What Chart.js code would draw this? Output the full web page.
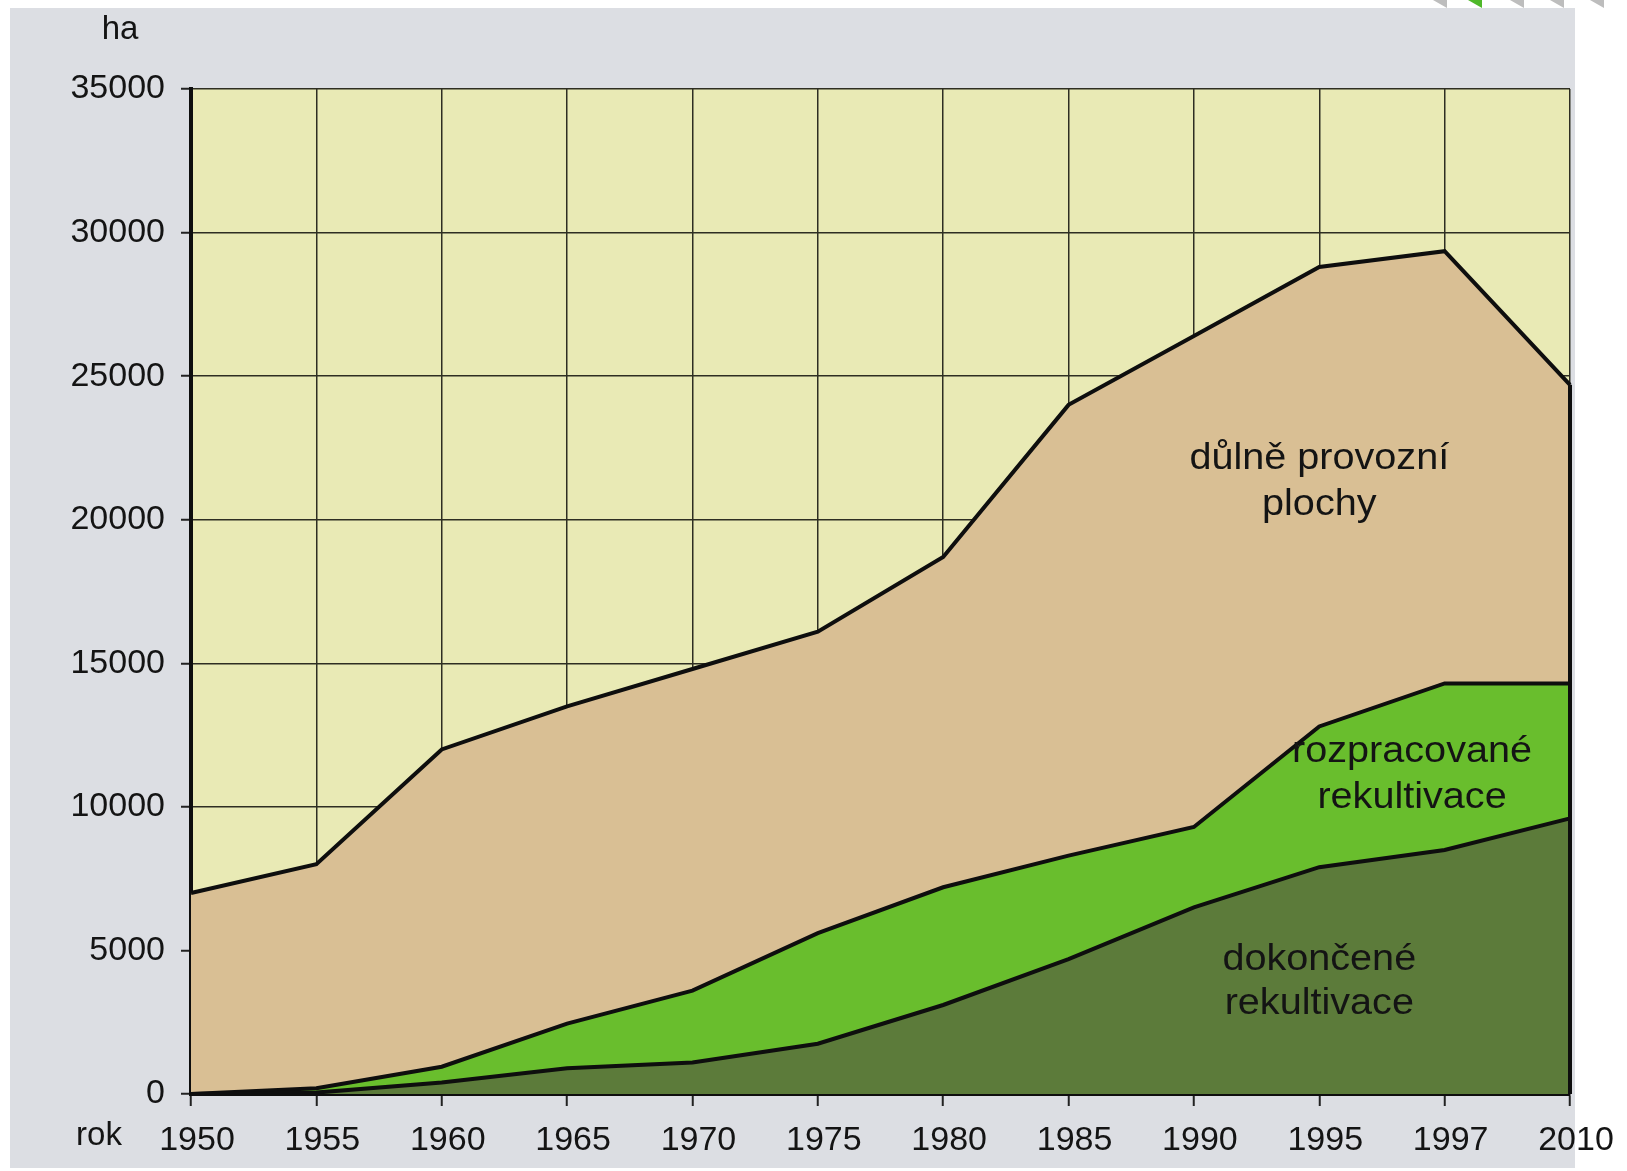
<!DOCTYPE html>
<html>
<head>
<meta charset="utf-8">
<script src="https://cdn.jsdelivr.net/npm/chart.js@4/dist/chart.umd.min.js"></script>
<style>
  html, body { margin: 0; padding: 0; background: #ffffff; }
  canvas { display: block; }
</style>
</head>
<body>
<canvas id="chart" width="1627" height="1171"></canvas>
<script>
// roky
var years = ['1950', '1955', '1960', '1965', '1970', '1975', '1980', '1985', '1990', '1995', '1997', '2010'];

// plochy v ha (jednotlivé vrstvy, skládají se na sebe)
var dokoncene    = [0,   50,   400,   900,  1100,  1750,  3100,  4700,  6500,  7900,  8500,  9600];
var rozpracovane = [0,  150,   550,  1550,  2500,  3850,  4100,  3600,  2800,  4900,  5800,  4700];
var dulne        = [7000, 7800, 11050, 11050, 11200, 10500, 11500, 15700, 17100, 16000, 15050, 10400];

var yTicks = [0, 5000, 10000, 15000, 20000, 25000, 30000, 35000];

// popisky ploch: [řádky, pozice na ose x (index roku), hodnota y prvního řádku, y druhého řádku]
var areaLabels = [
  [['důlně provozní', 'plochy'], 9, 22100, 20500],
  [['rozpracované', 'rekultivace'], 9.74, 11900, 10300],
  [['dokončené', 'rekultivace'], 9, 4670, 3140]
];

var FONT = '"Liberation Sans", Arial, sans-serif';
var TEXT = '#141414';
var LINE = '#0e0e0e';

var background = {
  id: 'background',
  beforeDraw: function (chart) {
    var ctx = chart.ctx, a = chart.chartArea;
    ctx.save();
    ctx.fillStyle = '#ffffff';
    ctx.fillRect(0, 0, chart.width, chart.height);
    ctx.fillStyle = '#dcdee3';
    ctx.fillRect(10, 8, 1565, 1160);
    // ozdobné trojúhelníčky v rohu
    var tri = [1433, 1468, 1510, 1550, 1590];
    tri.forEach(function (x, i) {
      ctx.fillStyle = i === 1 ? '#4fb82a' : '#bdbdbd';
      ctx.beginPath();
      ctx.moveTo(x, 0);
      ctx.lineTo(x + 14, 0);
      ctx.lineTo(x + 14, 8);
      ctx.closePath();
      ctx.fill();
    });
    ctx.fillStyle = '#e9eab5';
    ctx.fillRect(a.left, a.top, a.right - a.left, a.bottom - a.top);
    ctx.restore();
  }
};

var texts = {
  id: 'texts',
  afterDatasetsDraw: function (chart) {
    var ctx = chart.ctx, x = chart.scales.x, y = chart.scales.y;
    var last = years.length - 1;
    var total = dokoncene[last] + rozpracovane[last] + dulne[last];
    ctx.save();
    // pravý okraj vyplněných ploch
    ctx.strokeStyle = LINE;
    ctx.lineWidth = 4;
    ctx.beginPath();
    ctx.moveTo(x.getPixelForValue(last), y.getPixelForValue(0));
    ctx.lineTo(x.getPixelForValue(last), y.getPixelForValue(total));
    ctx.stroke();

    ctx.fillStyle = TEXT;
    ctx.textBaseline = 'middle';
    ctx.font = '33px ' + FONT;
    ctx.textAlign = 'center';
    ctx.fillText('ha', 120, 30);
    ctx.fillText('rok', 99, 1136);

    ctx.font = '36px ' + FONT;
    areaLabels.forEach(function (l) {
      var i0 = Math.floor(l[1]);
      var px = x.getPixelForValue(i0) + (l[1] - i0) * (x.getPixelForValue(i0 + 1) - x.getPixelForValue(i0) || 0);
      [l[2], l[3]].forEach(function (v, k) {
        ctx.save();
        ctx.translate(px, y.getPixelForValue(v));
        ctx.scale(1.1, 1);
        ctx.fillText(l[0][k], 0, 0);
        ctx.restore();
      });
    });
    ctx.restore();
  }
};

function layer(label, data, color, fill) {
  return {
    label: label,
    data: data,
    backgroundColor: color,
    borderColor: LINE,
    borderWidth: 4,
    fill: fill,
    tension: 0,
    pointRadius: 0
  };
}

new Chart(document.getElementById('chart'), {
  type: 'line',
  data: {
    labels: years,
    datasets: [
      layer('dokončené rekultivace', dokoncene, '#5c7b3a', 'origin'),
      layer('rozpracované rekultivace', rozpracovane, '#69be2d', '-1'),
      layer('důlně provozní plochy', dulne, '#d9bf94', '-1')
    ]
  },
  options: {
    responsive: false,
    devicePixelRatio: 1,
    animation: false,
    layout: { padding: { left: 0, right: 57, top: 89, bottom: 0 } },
    plugins: { legend: { display: false }, tooltip: { enabled: false } },
    scales: {
      x: {
        offset: false,
        grid: { color: '#2e2e22', lineWidth: 1.5, tickLength: 12, tickColor: '#222', tickWidth: 2 },
        border: { color: LINE, width: 4 },
        ticks: {
          color: TEXT,
          font: { family: FONT, size: 34 },
          padding: 14,
          labelOffset: 6,
          maxRotation: 0,
          autoSkip: false
        },
        afterFit: function (s) { s.height = 77; }
      },
      y: {
        stacked: true,
        min: 0,
        max: 35000,
        afterBuildTicks: function (s) { s.ticks = yTicks.map(function (v) { return { value: v }; }); },
        grid: { color: '#2e2e22', lineWidth: 1.5, tickLength: 10, tickColor: '#222', tickWidth: 2 },
        border: { color: LINE, width: 4 },
        ticks: {
          color: TEXT,
          font: { family: FONT, size: 34 },
          padding: 16,
          callback: function (v) { return String(v); }
        },
        afterFit: function (s) { s.width = 191; }
      }
    }
  },
  plugins: [background, texts]
});
</script>
</body>
</html>
